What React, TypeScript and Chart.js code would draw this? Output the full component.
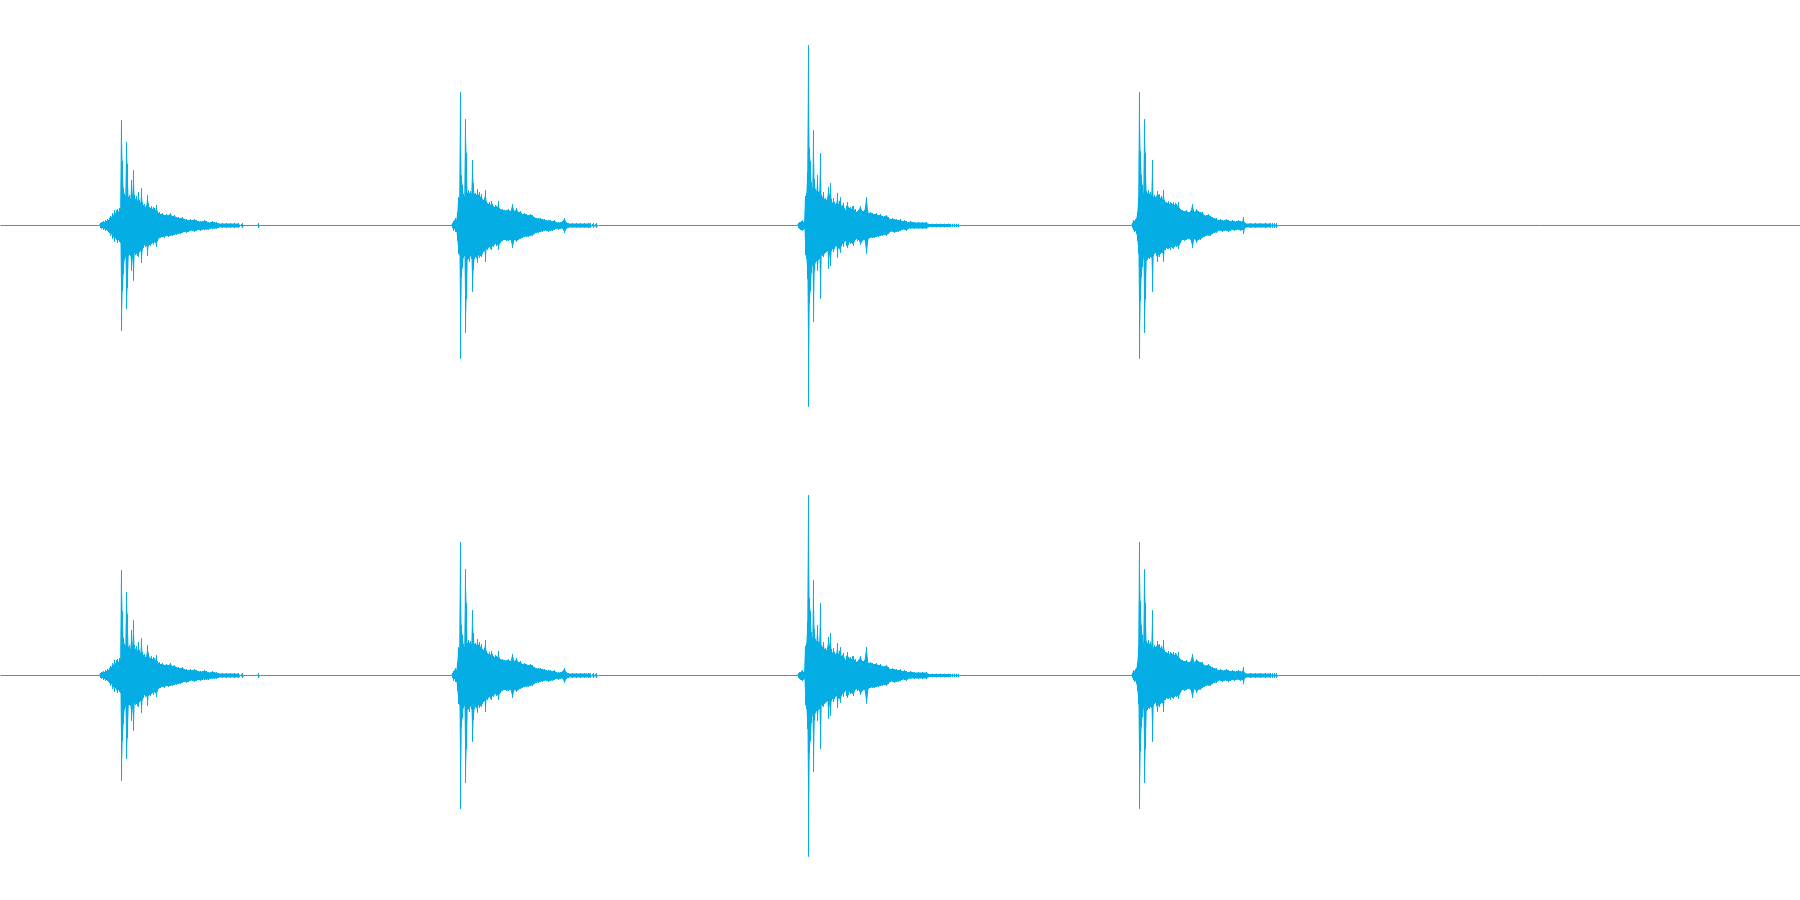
import React, { useEffect, useRef } from "react";
import { Chart, registerables } from "chart.js";

Chart.register(...registerables);

// Time axis in ms (clip length) and amplitude in % of full scale
const DURATION_MS = 1800;
const WAVE_COLOR = "#05ADE5";

// ---- Click 1 ----
const click1Time = [
  100, 101, 102, 103, 104, 105, 106, 107, 108, 109, 110, 111, 112, 113, 114, 115, 116, 117, 118, 119, 120,
  121, 122, 123, 124, 125, 126, 127, 128, 129, 130, 131, 132, 133, 134, 135, 136, 137, 138, 139, 140,
  141, 142, 143, 144, 145, 146, 147, 148, 149, 150, 151, 152, 153, 154, 155, 156, 157, 158, 159, 160,
  162, 164, 166, 168, 170, 172, 174, 176, 178, 180, 182, 184, 186, 188, 190, 192, 194, 196, 198, 200,
  202, 204, 206, 208, 210, 212, 214, 216, 218, 222, 226, 230, 234, 238, 240, 242, 243, 257, 258, 259,
];
const click1Max = [
  1.0, 1.3, 1.3, 1.8, 1.3, 2.2, 1.8, 2.7, 2.2, 3.1, 4.0, 3.6, 5.3, 4.4, 6.7, 5.3, 6.7, 7.1, 5.8, 7.6, 7.1,
  46.7, 28.4, 16.4, 14.0, 13.0, 36.9, 27.1, 12.4, 13.3, 11.6, 20.0, 12.9, 24.4, 13.3, 11.6, 12.9, 10.7, 14.7, 11.1, 9.8,
  16.4, 10.2, 8.9, 9.3, 8.0, 8.9, 13.3, 9.8, 8.0, 7.6, 8.4, 7.1, 8.0, 7.6, 6.7, 8.9, 6.2, 5.3, 5.8, 4.9,
  5.3, 4.4, 4.9, 4.4, 5.3, 4.0, 4.4, 3.6, 3.6, 3.1, 3.6, 2.7, 2.7, 2.2, 2.7, 2.2, 2.7, 2.2, 1.8, 1.8,
  1.8, 2.2, 1.8, 1.3, 1.3, 1.8, 1.3, 1.3, 0.9, 0.9, 0.9, 0.9, 0.9, 0.9, 0, 0.9, 0, 0, 0.9, 0,
];
const click1Min = [
  -1.0, -1.3, -1.0, -1.8, -1.3, -2.2, -1.8, -2.2, -2.7, -3.1, -4.4, -3.6, -5.8, -4.9, -7.1, -5.3, -6.2, -7.6, -6.2, -7.1, -7.6,
  -46.7, -28.9, -21.3, -15.0, -14.0, -36.9, -27.6, -13.3, -12.9, -13.3, -20.0, -14.2, -24.4, -12.0, -12.9, -12.4, -13.3, -13.8, -11.6, -11.1,
  -16.4, -10.7, -9.8, -8.4, -9.3, -8.9, -13.3, -8.9, -8.4, -8.9, -8.0, -7.6, -8.4, -7.1, -7.6, -9.3, -6.7, -5.8, -5.3, -5.3,
  -4.9, -5.3, -4.4, -4.9, -4.4, -4.4, -4.0, -4.0, -3.6, -3.6, -3.1, -2.7, -3.1, -2.7, -2.2, -2.2, -2.7, -2.2, -1.8, -2.2,
  -1.8, -1.8, -1.8, -1.8, -1.3, -1.3, -1.3, -1.3, -0.9, -0.9, -0.9, -0.9, -0.9, -0.9, 0, -0.9, 0, 0, -0.9, 0,
];

// ---- Click 2 ----
const click2Time = [
  452, 453, 454, 455, 456, 457, 458, 459, 460, 461, 462, 463, 464, 465, 466, 467, 468, 469, 470, 471,
  472, 473, 474, 475, 476, 477, 478, 479, 480, 481, 482, 483, 484, 485, 486, 487, 488, 489, 490, 491,
  492, 493, 494, 495, 496, 497, 498, 499, 500,
  502, 504, 506, 508, 510, 512, 514, 516, 518, 520, 522, 524, 526, 528, 530, 532, 534, 536, 538, 540,
  542, 544, 546, 548, 550, 552, 554, 556, 558, 560, 562, 564, 566, 568, 572, 576, 580, 584, 588, 590,
  591, 593, 594, 596, 597,
];
const click2Max = [
  0.9, 1.8, 2.2, 3.1, 2.2, 5.8, 12.4, 12.0, 59.1, 22.2, 17.8, 13.8, 12.4, 47.1, 32.0, 14.2, 15.6, 14.2, 15.1, 13.8,
  28.9, 18.7, 13.8, 14.2, 13.3, 16.0, 13.3, 14.7, 12.4, 13.8, 11.6, 11.1, 12.0, 15.6, 10.7, 9.8, 9.3, 10.2, 8.9, 10.7,
  9.3, 8.4, 8.0, 8.9, 8.4, 8.0, 10.7, 7.6, 7.1,
  7.1, 6.7, 6.7, 7.1, 6.2, 9.3, 6.2, 7.6, 5.8, 6.2, 4.9, 5.3, 4.9, 4.4, 4.9, 4.4, 3.6, 3.1, 3.1, 3.1,
  2.7, 2.7, 2.2, 2.2, 2.2, 1.8, 2.2, 1.3, 1.3, 1.3, 1.8, 3.1, 1.3, 0.9, 0.9, 0.9, 0.9, 0.9, 0.9, 0.9,
  0, 0.9, 0, 0.9, 0,
];
const click2Min = [
  -0.9, -2.2, -1.3, -2.7, -2.7, -6.7, -12.4, -12.9, -59.1, -22.7, -18.7, -14.2, -13.3, -47.6, -32.4, -15.1, -14.7, -16.0, -13.3, -14.7,
  -29.3, -19.6, -14.7, -13.8, -14.2, -16.4, -12.9, -14.2, -13.3, -13.8, -12.4, -11.6, -11.1, -16.0, -10.2, -10.7, -9.8, -9.3, -10.2, -10.7,
  -8.9, -9.3, -8.4, -8.0, -8.9, -8.4, -10.7, -8.0, -7.6,
  -6.7, -6.2, -6.7, -6.7, -6.2, -9.8, -6.2, -7.1, -6.2, -5.8, -5.3, -4.9, -4.9, -4.9, -4.4, -4.4, -3.6, -3.1, -3.1, -2.7,
  -2.7, -2.2, -2.2, -2.7, -2.2, -2.2, -1.8, -1.3, -1.8, -1.3, -1.3, -3.1, -1.3, -0.9, -0.9, -0.9, -0.9, -0.9, -0.9, -0.9,
  0, -0.9, 0, -0.9, 0,
];

// ---- Click 3 ----
const click3Time = [
  798, 799, 800, 801, 802, 803, 804, 805, 806, 807, 808, 809, 810, 811, 812, 813, 814, 815, 816, 817,
  818, 819, 820, 821, 822, 823, 824, 825, 826, 827, 828, 829, 830, 831, 832, 833, 834, 835, 836, 837,
  838, 839, 840, 841, 842, 843, 844, 845, 846, 847, 848, 849, 850, 851, 852, 853, 854, 855, 856, 857, 858,
  860, 862, 864, 866, 868, 870, 872, 874, 876, 878, 880, 882, 884, 886, 888, 890, 892, 894, 896, 898,
  900, 902, 904, 906, 908, 910, 914, 918, 922, 926, 928, 932, 936, 940, 944, 948, 950,
  951, 952, 953, 954, 955, 956, 957, 958, 959,
];
const click3Max = [
  0.9, 1.3, 1.3, 1.8, 2.2, 1.3, 1.8, 12.9, 14.2, 23.6, 80.0, 34.2, 28.4, 19.1, 16.0, 42.2, 20.4, 16.0, 15.1, 22.2,
  14.7, 15.1, 32.0, 13.3, 12.4, 14.7, 11.6, 12.0, 11.1, 12.4, 16.9, 12.9, 18.7, 11.6, 9.8, 12.0, 10.2, 9.3, 9.8, 14.2,
  9.3, 10.7, 12.4, 8.4, 8.9, 9.8, 7.6, 6.7, 8.4, 10.2, 8.0, 7.6, 8.0, 7.1, 8.4, 8.4, 6.7, 7.1, 5.8, 6.2, 6.7,
  8.4, 6.2, 6.7, 12.4, 5.3, 5.8, 5.3, 4.9, 5.3, 4.4, 4.9, 4.0, 4.0, 4.4, 3.6, 2.7, 3.1, 2.7, 2.7, 2.2,
  2.7, 1.8, 2.2, 1.8, 1.3, 1.8, 1.3, 1.3, 1.3, 1.3, 0.7, 0.7, 0.7, 0.7, 0.7, 0.7, 0.7,
  0, 0.7, 0, 0.7, 0, 0.7, 0, 0.7, 0,
];
const click3Min = [
  -0.9, -1.3, -1.8, -1.8, -2.2, -1.8, -1.3, -12.9, -14.7, -23.6, -80.4, -34.2, -28.9, -20.9, -16.9, -42.7, -20.0, -16.4, -15.6, -20.0,
  -15.1, -14.7, -32.4, -12.9, -13.3, -13.8, -12.4, -12.0, -11.6, -11.1, -19.1, -12.4, -17.8, -11.1, -10.2, -11.6, -10.2, -9.3, -8.9, -14.2,
  -9.8, -10.2, -12.0, -8.9, -8.0, -9.3, -7.1, -6.7, -8.9, -9.8, -8.4, -7.1, -8.0, -7.6, -8.0, -8.9, -7.1, -6.2, -5.8, -6.7, -6.2,
  -8.4, -6.7, -6.2, -12.4, -5.8, -5.3, -5.3, -5.3, -4.9, -4.9, -4.4, -4.4, -4.0, -4.4, -3.6, -2.7, -2.7, -3.1, -2.7, -2.7,
  -2.2, -1.8, -1.8, -2.2, -1.3, -1.3, -1.3, -1.3, -1.3, -1.3, -0.7, -0.7, -0.7, -0.7, -0.7, -0.7, -0.7,
  0, -0.7, 0, -0.7, 0, -0.7, 0, -0.7, 0,
];

// ---- Click 4 ----
const click4Time = [
  1132, 1133, 1134, 1135, 1136, 1137, 1138, 1139, 1140, 1141, 1142, 1143, 1144, 1145, 1146, 1147, 1148, 1149, 1150, 1151,
  1152, 1153, 1154, 1155, 1156, 1157, 1158, 1159, 1160, 1161, 1162, 1163, 1164, 1165, 1166, 1167, 1168, 1169, 1170, 1171,
  1172, 1173, 1174, 1175, 1176, 1177, 1178, 1179, 1180,
  1182, 1184, 1186, 1188, 1190, 1192, 1194, 1196, 1198, 1200, 1202, 1204, 1206, 1208, 1210, 1212, 1214, 1216, 1218, 1220,
  1222, 1224, 1226, 1228, 1230, 1232, 1234, 1236, 1238, 1240, 1242, 1243, 1244, 1245, 1250, 1255, 1260, 1265, 1270,
  1271, 1272, 1273, 1274, 1275, 1276, 1277,
];
const click4Max = [
  0.9, 2.2, 1.8, 2.7, 3.1, 5.8, 12.4, 59.1, 32.9, 22.2, 17.8, 13.3, 47.1, 32.0, 15.1, 14.2, 15.6, 13.8, 14.7, 13.3,
  28.9, 12.4, 13.3, 12.4, 12.9, 15.1, 13.3, 13.8, 12.0, 12.9, 11.6, 15.6, 11.1, 10.2, 10.2, 9.8, 10.7, 9.3, 10.2, 9.8,
  9.3, 10.2, 8.9, 9.8, 9.3, 8.4, 10.2, 7.6, 7.1,
  6.7, 6.2, 6.7, 5.8, 6.2, 9.3, 5.8, 7.1, 6.2, 5.8, 5.8, 4.4, 4.4, 4.9, 4.0, 3.6, 3.1, 3.1, 2.2, 2.7,
  2.2, 2.2, 2.7, 2.2, 1.8, 2.2, 1.8, 1.8, 2.2, 1.8, 1.8, 3.6, 1.3, 0.9, 0.9, 0.9, 0.9, 0.9, 0.9,
  0, 0.9, 0, 0.9, 0, 0.9, 0,
];
const click4Min = [
  -0.9, -1.8, -2.7, -2.2, -3.6, -6.7, -12.4, -59.1, -33.3, -22.7, -18.2, -13.8, -47.6, -32.4, -15.6, -15.1, -14.2, -14.7, -13.8, -14.2,
  -29.3, -13.3, -12.4, -12.0, -13.3, -16.0, -12.9, -13.8, -12.4, -12.0, -12.0, -16.0, -10.7, -10.7, -9.8, -10.2, -10.2, -9.8, -10.7, -9.3,
  -9.8, -10.2, -9.3, -8.9, -9.3, -8.9, -10.2, -8.4, -7.6,
  -6.2, -6.7, -6.2, -5.8, -6.2, -9.8, -5.8, -7.6, -6.2, -6.2, -5.3, -4.9, -4.4, -4.4, -4.4, -3.6, -3.1, -3.1, -2.2, -2.2,
  -2.7, -2.2, -2.2, -2.7, -2.2, -1.8, -2.2, -1.8, -1.8, -2.2, -1.8, -3.6, -1.3, -0.9, -0.9, -0.9, -0.9, -0.9, -0.9,
  0, -0.9, 0, -0.9, 0, -0.9, 0,
];

const clicks = [
  { time: click1Time, max: click1Max, min: click1Min },
  { time: click2Time, max: click2Max, min: click2Min },
  { time: click3Time, max: click3Max, min: click3Min },
  { time: click4Time, max: click4Max, min: click4Min },
];

// Both channels carry the same recording (identical stereo)
const leftChannel = clicks;
const rightChannel = clicks;

type Pt = { x: number; y: number };
type Click = { time: number[]; max: number[]; min: number[] };

// Peak lines: each sample column drawn from its max down to its min
function buildWave(channel: Click[]): Pt[] {
  const pts: Pt[] = [{ x: 0, y: 0 }];
  for (const c of channel) {
    const n = Math.min(c.time.length, c.max.length, c.min.length);
    pts.push({ x: c.time[0] - 1, y: 0 });
    for (let i = 0; i < n; i++) {
      pts.push({ x: c.time[i], y: c.max[i] });
      pts.push({ x: c.time[i], y: c.min[i] });
    }
    pts.push({ x: c.time[n - 1] + 1, y: 0 });
  }
  pts.push({ x: DURATION_MS, y: 0 });
  return pts;
}

// Envelope (max or min series) used to fill the waveform body
function buildEnvelope(channel: Click[], key: "max" | "min"): Pt[] {
  const pts: Pt[] = [{ x: 0, y: 0 }];
  for (const c of channel) {
    const vals = c[key];
    const n = Math.min(c.time.length, vals.length);
    pts.push({ x: c.time[0] - 1, y: 0 });
    for (let i = 0; i < n; i++) pts.push({ x: c.time[i], y: vals[i] });
    pts.push({ x: c.time[n - 1] + 1, y: 0 });
  }
  pts.push({ x: DURATION_MS, y: 0 });
  return pts;
}

function WaveChannel({ channel }: { channel: Click[] }) {
  const ref = useRef<HTMLCanvasElement | null>(null);
  useEffect(() => {
    if (!ref.current) return;
    const chart = new Chart(ref.current, {
      type: "line",
      data: {
        datasets: [
          {
            data: buildEnvelope(channel, "max"),
            borderWidth: 0,
            borderColor: "rgba(0,0,0,0)",
            pointRadius: 0,
            tension: 0,
            fill: false,
          },
          {
            data: buildEnvelope(channel, "min"),
            borderWidth: 0,
            borderColor: "rgba(0,0,0,0)",
            backgroundColor: WAVE_COLOR,
            pointRadius: 0,
            tension: 0,
            fill: "-1",
          },
          {
            data: buildWave(channel),
            borderColor: WAVE_COLOR,
            borderWidth: 1,
            borderJoinStyle: "bevel",
            pointRadius: 0,
            tension: 0,
            fill: false,
          },
        ],
      },
      options: {
        responsive: false,
        animation: false,
        devicePixelRatio: 1,
        layout: { padding: 0 },
        plugins: { legend: { display: false }, tooltip: { enabled: false } },
        scales: {
          // half-pixel offsets keep 1px lines on the pixel grid
          x: { type: "linear", min: -0.5, max: DURATION_MS - 0.5, display: false },
          y: { type: "linear", min: -99.778, max: 100.222, display: false },
        },
      },
    });
    return () => chart.destroy();
  }, [channel]);
  return <canvas ref={ref} width={1800} height={450} style={{ display: "block" }} />;
}

export default function App() {
  return (
    <div style={{ position: "absolute", left: 0, top: 0, width: 1800, height: 900, background: "#ffffff" }}>
      <WaveChannel channel={leftChannel} />
      <WaveChannel channel={rightChannel} />
    </div>
  );
}
